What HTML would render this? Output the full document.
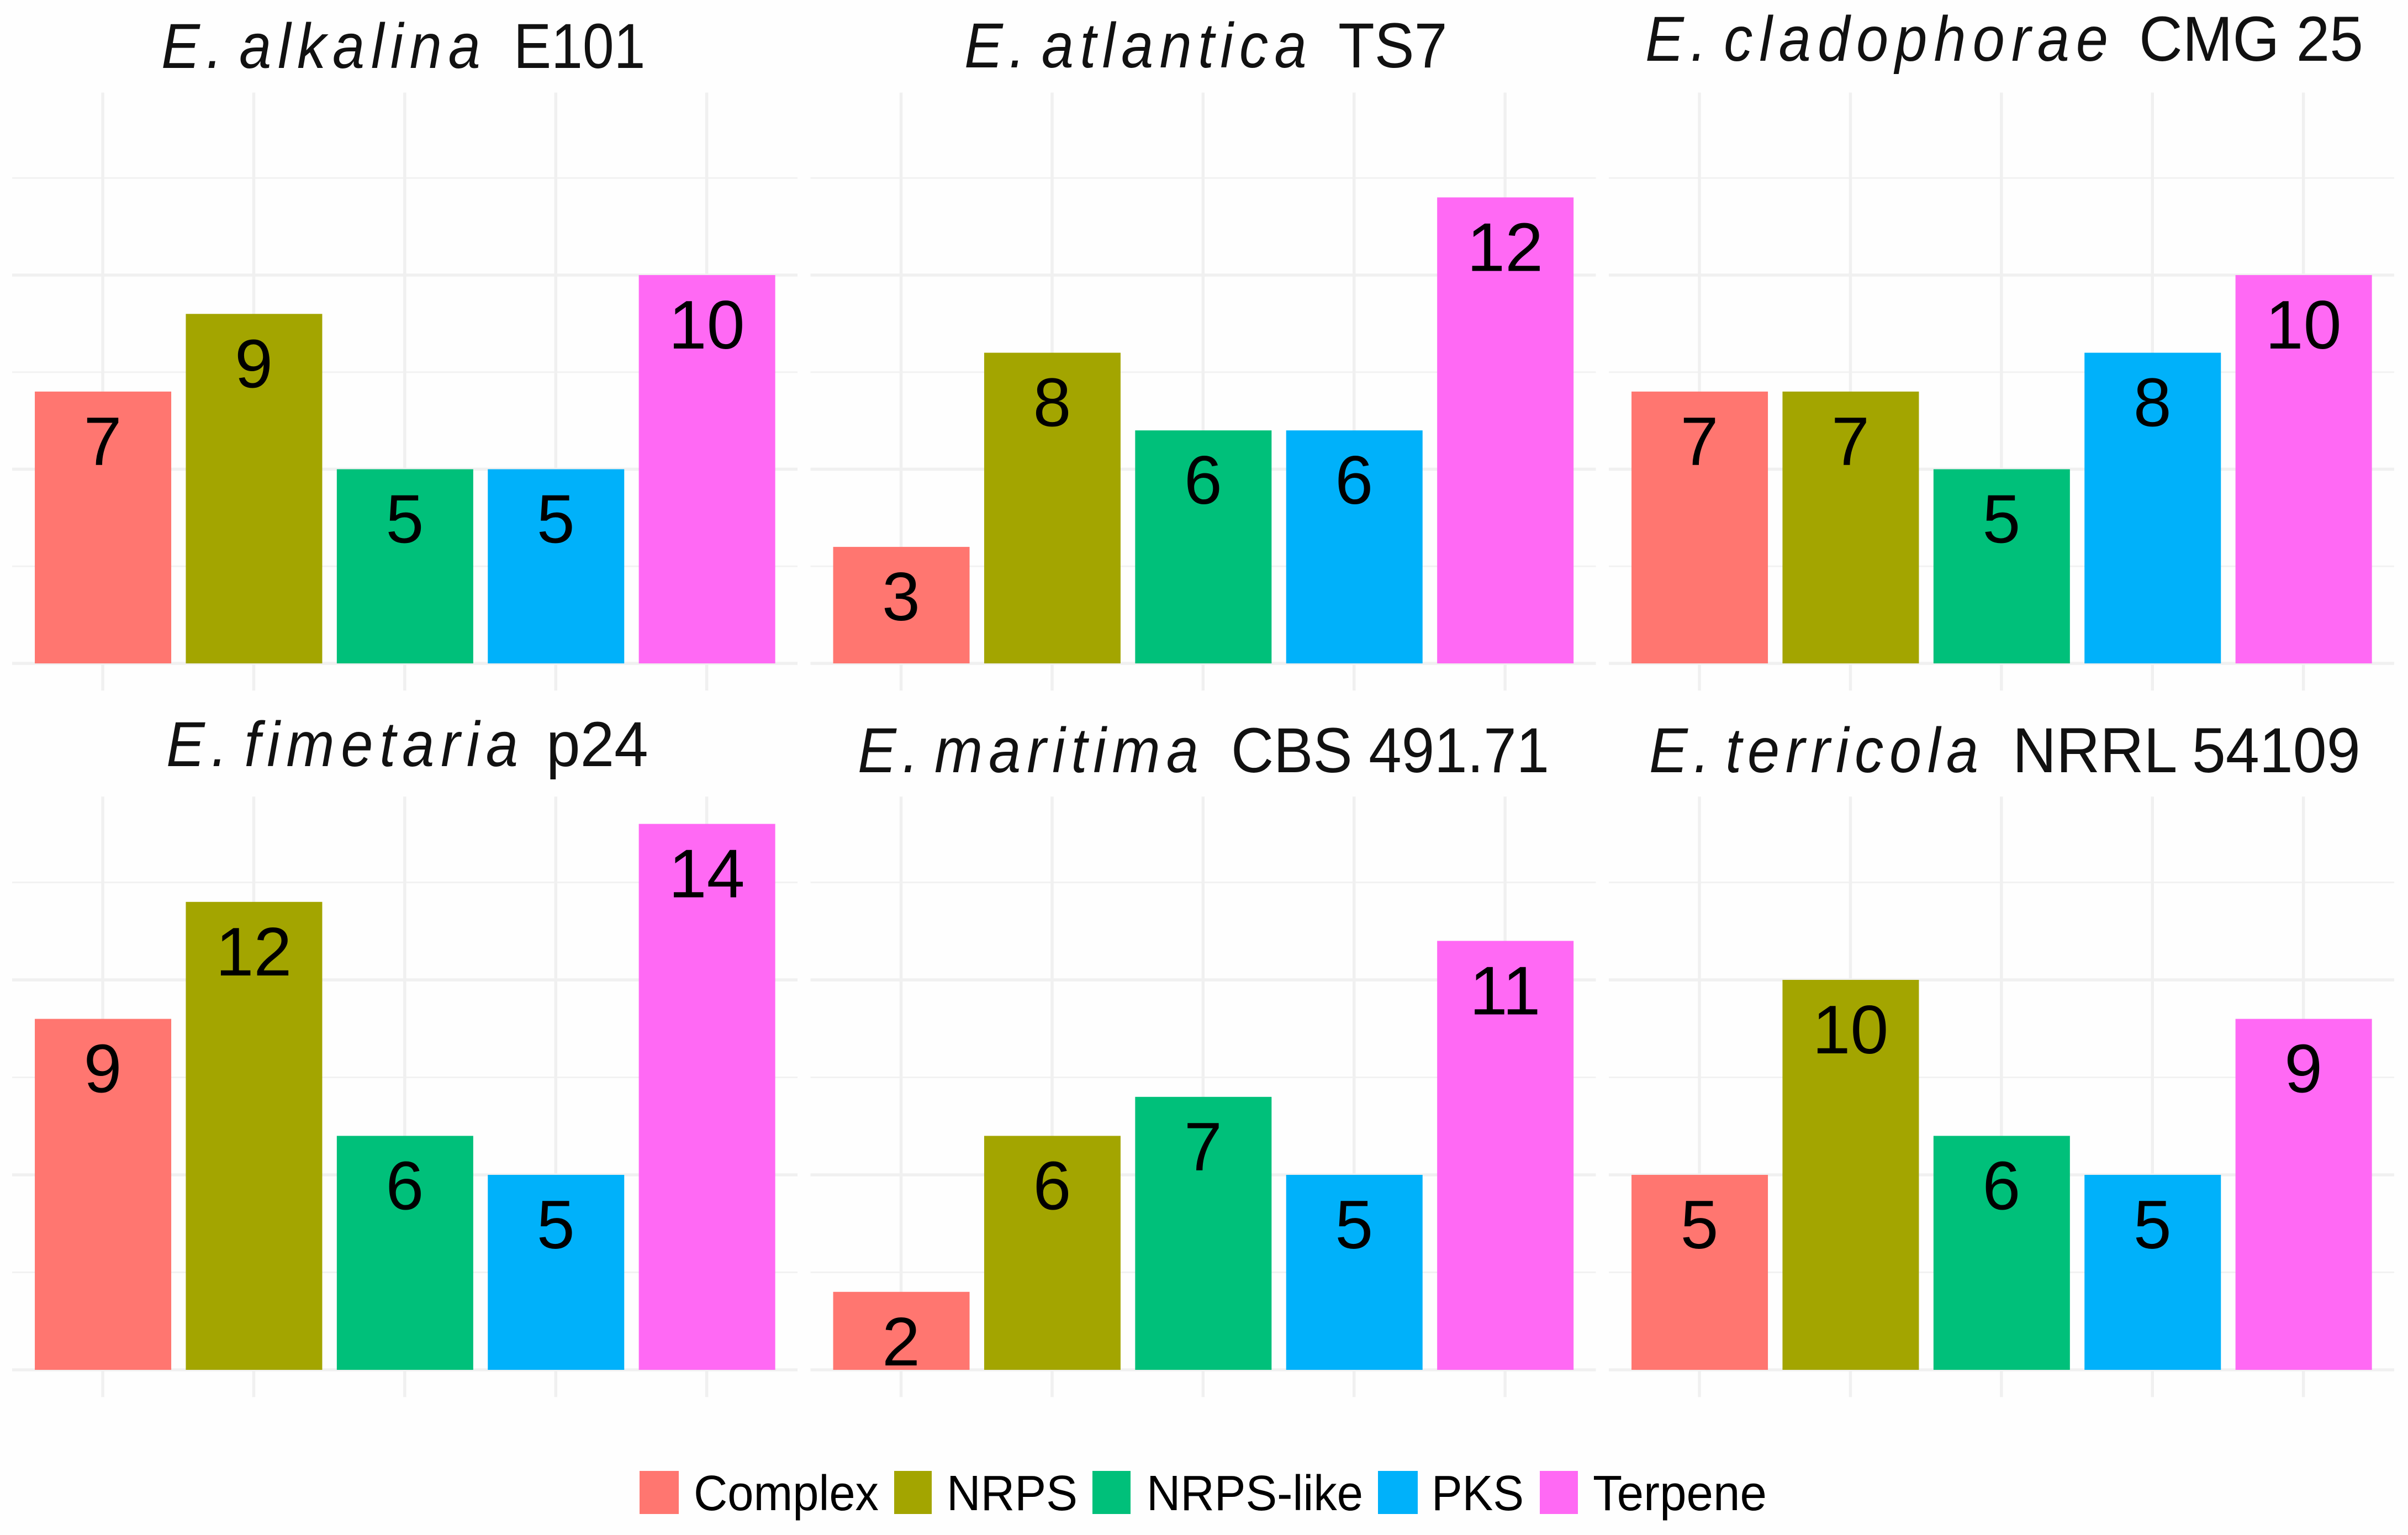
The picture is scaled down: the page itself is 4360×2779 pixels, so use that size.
<!DOCTYPE html>
<html lang="en">
<head>
<meta charset="utf-8">
<title>Biosynthetic gene clusters per strain</title>
<style>
html,body{margin:0;padding:0;background:#fefefe;}
svg{display:block;}
text{font-family:"Liberation Sans",sans-serif;}
</style>
</head>
<body>
<svg id="chart" xmlns="http://www.w3.org/2000/svg" width="4360" height="2779" viewBox="0 0 4360 2779">
<rect x="0" y="0" width="4360" height="2779" fill="#fefefe"/>
<g id="panels"></g>
<g font-size="115" fill="#111">
  <g>
    <text transform="translate(292 123) scale(.91 1)" font-style="italic" word-spacing="-24" textLength="635" lengthAdjust="spacing">E. alkalina</text>
    <text transform="translate(930 123) scale(.91 1)" textLength="262" lengthAdjust="spacingAndGlyphs">E101</text>
  </g>
  <g>
    <text transform="translate(1746 122) scale(.91 1)" font-style="italic" word-spacing="-24" textLength="681" lengthAdjust="spacing">E. atlantica</text>
    <text transform="translate(2423 122) scale(.91 1)" textLength="217" lengthAdjust="spacingAndGlyphs">TS7</text>
  </g>
  <g>
    <text transform="translate(2979 110) scale(.91 1)" font-style="italic" word-spacing="-24" textLength="921" lengthAdjust="spacing">E. cladophorae</text>
    <text transform="translate(3873 110) scale(.91 1)" textLength="446" lengthAdjust="spacingAndGlyphs">CMG 25</text>
  </g>
  <g>
    <text transform="translate(301 1387) scale(.91 1)" font-style="italic" word-spacing="-24" textLength="700" lengthAdjust="spacing">E. fimetaria</text>
    <text transform="translate(989 1387) scale(.91 1)" textLength="203" lengthAdjust="spacingAndGlyphs">p24</text>
  </g>
  <g>
    <text transform="translate(1553 1398) scale(.91 1)" font-style="italic" word-spacing="-24" textLength="678" lengthAdjust="spacing">E. maritima</text>
    <text transform="translate(2229 1398) scale(.91 1)" textLength="633" lengthAdjust="spacingAndGlyphs">CBS 491.71</text>
  </g>
  <g>
    <text transform="translate(2986 1398) scale(.91 1)" font-style="italic" word-spacing="-24" textLength="655" lengthAdjust="spacing">E. terricola</text>
    <text transform="translate(3644 1398) scale(.91 1)" textLength="692" lengthAdjust="spacingAndGlyphs">NRRL 54109</text>
  </g>
</g>
<g font-size="90" fill="#000">
  <g>
    <rect x="1158" y="2663" width="71" height="78" fill="#FF7670"/>
    <text x="1256" y="2734" textLength="335" lengthAdjust="spacingAndGlyphs">Complex</text>
  </g>
  <g>
    <rect x="1619" y="2663" width="68" height="78" fill="#A3A500"/>
    <text x="1714" y="2734" textLength="237" lengthAdjust="spacingAndGlyphs">NRPS</text>
  </g>
  <g>
    <rect x="1978" y="2663" width="69" height="78" fill="#00C07A"/>
    <text x="2076" y="2734" textLength="392" lengthAdjust="spacingAndGlyphs">NRPS-like</text>
  </g>
  <g>
    <rect x="2495" y="2663" width="72" height="78" fill="#00B1FA"/>
    <text x="2592" y="2734" textLength="167" lengthAdjust="spacingAndGlyphs">PKS</text>
  </g>
  <g>
    <rect x="2788" y="2663" width="69" height="78" fill="#FF69F4"/>
    <text x="2884" y="2734" textLength="315" lengthAdjust="spacingAndGlyphs">Terpene</text>
  </g>
</g>
</svg>
<script>
var categories = ["Complex", "NRPS", "NRPS-like", "PKS", "Terpene"];
var alkalinaCounts = [7, 9, 5, 5, 10];
var atlanticaCounts = [3, 8, 6, 6, 12];
var cladophoraeCounts = [7, 7, 5, 8, 10];
var fimetariaCounts = [9, 12, 6, 5, 14];
var maritimaCounts = [2, 6, 7, 5, 11];
var terricolaCounts = [5, 10, 6, 5, 9];
var majorTicks = [0, 5, 10];
var minorTicks = [2.5, 7.5, 12.5];
var categoryColors = ["#FF7670", "#A3A500", "#00C07A", "#00B1FA", "#FF69F4"];

var SVG_NS = "http://www.w3.org/2000/svg";
var panelsRoot = document.getElementById("panels");
var panelSeries = [
  { key: "alkalina", values: alkalinaCounts },
  { key: "atlantica", values: atlanticaCounts },
  { key: "cladophorae", values: cladophoraeCounts },
  { key: "fimetaria", values: fimetariaCounts },
  { key: "maritima", values: maritimaCounts },
  { key: "terricola", values: terricolaCounts }
];

var STEP = 273.4, BAR_WIDTH = 247, PANEL_WIDTH = 1422;
var Y_EXPAND = 0.7, Y_MAX = 14;
var LABEL_OFFSET = 133;

function panelLeft(col) { return 22 + col * 1445.5; }
function panelBaseline(row) { return 1201 + row * 1279; }
function unitHeight(row) { return row === 0 ? 70.3 : 70.6; }
function xScale(col, i) { return panelLeft(col) + (i + 0.6) * STEP; }
function yScale(row, v) { return panelBaseline(row) - v * unitHeight(row); }

function make(tag, parent, attrs) {
  var el = document.createElementNS(SVG_NS, tag);
  for (var k in attrs) { el.setAttribute(k, attrs[k]); }
  parent.appendChild(el);
  return el;
}

panelSeries.forEach(function (panel, p) {
  var col = p % 3, row = Math.floor(p / 3);
  var top = yScale(row, Y_MAX + Y_EXPAND), bottom = yScale(row, -Y_EXPAND);
  var left = panelLeft(col), right = left + PANEL_WIDTH;

  var g = make("g", panelsRoot, {});
  
  

  minorTicks.forEach(function (t) {
    var line = make("line", g, { x1: left, x2: right, y1: yScale(row, t), y2: yScale(row, t), stroke: "#f2f2f2", "stroke-width": 3 });
    
    
  });
  majorTicks.forEach(function (t) {
    var line = make("line", g, { x1: left, x2: right, y1: yScale(row, t), y2: yScale(row, t), stroke: "#f0f0f0", "stroke-width": 5.5 });
    
    
  });
  categories.forEach(function (c, i) {
    var line = make("line", g, { x1: xScale(col, i), x2: xScale(col, i), y1: top, y2: bottom, stroke: "#f0f0f0", "stroke-width": 5.5 });
    
    
  });
  panel.values.forEach(function (v, i) {
    var bar = make("rect", g, {
      x: xScale(col, i) - BAR_WIDTH / 2 + 0.5,
      y: yScale(row, v),
      width: BAR_WIDTH,
      height: yScale(row, 0) - yScale(row, v),
      fill: categoryColors[i]
    });
    
    
  });
  panel.values.forEach(function (v, i) {
    var label = make("text", g, {
      x: xScale(col, i),
      y: yScale(row, v) + LABEL_OFFSET,
      "text-anchor": "middle",
      "font-size": 124,
      fill: "#000"
    });
    label.textContent = String(v);
    
    
  });
});
</script>
</body>
</html>
